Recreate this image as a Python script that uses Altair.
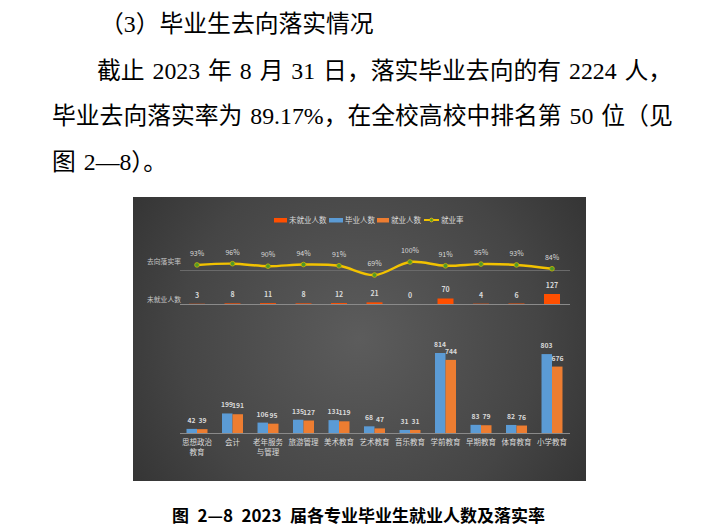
import altair as alt
import pandas as pd

# ---------------- data ----------------
categories = ["思想政治教育", "会计", "老年服务与管理", "旅游管理", "美术教育", "艺术教育",
              "音乐教育", "学前教育", "早期教育", "体育教育", "小学教育"]
graduates = [42, 199, 106, 135, 131, 68, 31, 814, 83, 82, 803]
employed = [39, 191, 95, 127, 119, 47, 31, 744, 79, 76, 676]
unemployed = [3, 8, 11, 8, 12, 21, 0, 70, 4, 6, 127]
rate = [93, 96, 90, 94, 91, 69, 100, 91, 95, 93, 84]

legend_names = ["未就业人数", "毕业人数", "就业人数", "就业率"]
row_names = ["去向落实率", "未就业人数"]
doc_lines = [
    "（3）毕业生去向落实情况",
    "截止 2023 年 8 月 31 日，落实毕业去向的有 2224 人，",
    "毕业去向落实率为 89.17%，在全校高校中排名第 50 位（见",
    "图 2—8）。",
]
caption = "图 2—8 2023 届各专业毕业生就业人数及落实率"

# ---------------- styling ----------------
RED = "#FF4F00"
BLUE = "#5B9BD5"
ORANGE = "#ED7D31"
LINE = "#F2C200"
DOT = "#4E9A2A"
LBL = "#D9D9D9"
CJK = "Noto Sans CJK SC"
DOCFONT = "Liberation Serif, Noto Sans CJK SC"
THIRD_SPACE = "\u2004"
EN_SPACE = "\u2002"

df = pd.DataFrame({
    "cat": categories,
    "label": [c if len(c) <= 4 else c[:4] + "\n" + c[4:] for c in categories],
    "grad": graduates,
    "emp": employed,
    "unemp": unemployed,
    "rate": rate,
    "rate_txt": [f"{r}%" for r in rate],
    "idx": list(range(len(categories))),
})
one = pd.DataFrame({"k": [0]})

X = alt.X("cat:N", scale=alt.Scale(type="point", domain=categories, range=[189, 544], padding=0), axis=None)
Y_rate = alt.Y("rate:Q", scale=alt.Scale(domain=[0, 100], range=[296, 254]), axis=None)
Y_unemp = alt.Y("unemp:Q", scale=alt.Scale(domain=[0, 127], range=[296, 286]), axis=None)
Y_grad = alt.Y("grad:Q", scale=alt.Scale(domain=[0, 814], range=[425, 345]), axis=None)
Y_emp = alt.Y("emp:Q", scale=alt.Scale(domain=[0, 814], range=[425, 345]), axis=None)

layers = []

# background panel with radial shading
bg = alt.Chart(one).mark_rect(
    fill=alt.RadialGradient(
        gradient="radial",
        stops=[alt.GradientStop(color="#5c5c5c", offset=0),
               alt.GradientStop(color="#454545", offset=0.55),
               alt.GradientStop(color="#2a2a2a", offset=1)],
        x1=0.5, y1=0.5, r1=0, x2=0.5, y2=0.5, r2=0.72),
).encode(x=alt.value(125), x2=alt.value(578), y=alt.value(189), y2=alt.value(473))
layers.append(bg)

# document text
doc_x = [92, 89, 44, 44]
doc_y = [17, 64, 109, 155]
for t, xx, yy in zip(doc_lines, doc_x, doc_y):
    layers.append(alt.Chart(one).mark_text(text=t.replace(" ", THIRD_SPACE), align="left", baseline="middle",
                                           fontSize=23.8, font=DOCFONT, color="#000000")
                  .encode(x=alt.value(xx), y=alt.value(yy)))

# caption
layers.append(alt.Chart(one).mark_text(text=caption.replace(" ", EN_SPACE), align="left", baseline="middle",
                                       fontSize=17, fontWeight="bold", font=CJK, color="#000000")
              .encode(x=alt.value(164), y=alt.value(509)))

# baselines
for yy, col in [(262.5, "#6a6a6a"), (296.5, "#8a8a8a"), (425.5, "#8a8a8a")]:
    layers.append(alt.Chart(one).mark_rule(color=col, strokeWidth=1)
                  .encode(x=alt.value(172), x2=alt.value(562), y=alt.value(yy)))

# row labels
for name, yy in zip(row_names, [254, 292]):
    layers.append(alt.Chart(one).mark_text(text=name, fontSize=6.8, font=CJK, color="#C8C8C8")
                  .encode(x=alt.value(156), y=alt.value(yy)))

# legend
sw = [(266, 279, RED), (321, 335, BLUE), (369, 381, ORANGE)]
for (a, b, c) in sw:
    layers.append(alt.Chart(one).mark_rect(color=c)
                  .encode(x=alt.value(a), x2=alt.value(b), y=alt.value(210), y2=alt.value(214.5)))
layers.append(alt.Chart(one).mark_rule(color=LINE, strokeWidth=2)
              .encode(x=alt.value(416), x2=alt.value(431), y=alt.value(212)))
layers.append(alt.Chart(one).mark_circle(size=14, fill=DOT, opacity=1, stroke=LINE, strokeWidth=0.8)
              .encode(x=alt.value(423.5), y=alt.value(212)))
for name, xx in zip(legend_names, [281, 337, 383, 433]):
    layers.append(alt.Chart(one).mark_text(text=name, align="left", baseline="middle", fontSize=7.5,
                                           font=CJK, color=LBL)
                  .encode(x=alt.value(xx), y=alt.value(212.5)))

# employment rate line
layers.append(alt.Chart(df).mark_line(interpolate="catmull-rom", color=LINE, strokeWidth=2.4)
              .encode(x=X, y=Y_rate, order=alt.Order("idx:Q")))
layers.append(alt.Chart(df).mark_circle(size=22, fill=DOT, opacity=1, stroke="#C9B400", strokeWidth=0.8)
              .encode(x=X, y=Y_rate))
layers.append(alt.Chart(df).mark_text(dy=-11, fontSize=7, font=CJK, color=LBL)
              .encode(x=X, y=Y_rate, text="rate_txt:N"))

# unemployed bars
layers.append(alt.Chart(df).mark_bar(width=16, color=RED)
              .encode(x=X, y=Y_unemp))
layers.append(alt.Chart(df).mark_text(dy=-8, fontSize=7, fontWeight="bold", font=CJK, color=LBL)
              .encode(x=X, y=Y_unemp, text="unemp:Q"))

# graduates / employed bars
layers.append(alt.Chart(df).mark_bar(width=10.5, xOffset=-5.25, color=BLUE)
              .encode(x=X, y=Y_grad))
layers.append(alt.Chart(df).mark_bar(width=10.5, xOffset=5.25, color=ORANGE)
              .encode(x=X, y=Y_emp))
layers.append(alt.Chart(df).mark_text(dy=-8, xOffset=-5.5, fontSize=6.8, fontWeight="bold", font=CJK, color=LBL)
              .encode(x=X, y=Y_grad, text="grad:Q"))
layers.append(alt.Chart(df).mark_text(dy=-8, xOffset=5.5, fontSize=6.8, fontWeight="bold", font=CJK, color=LBL)
              .encode(x=X, y=Y_emp, text="emp:Q"))

# category labels
layers.append(alt.Chart(df).mark_text(baseline="top", lineBreak="\n", lineHeight=10, fontSize=7.5,
                                      font=CJK, color=LBL)
              .encode(x=X, y=alt.value(431), text="label:N"))

chart = alt.layer(*layers).resolve_scale(y="independent").properties(
    width=709, height=519, padding=0,
    autosize=alt.AutoSizeParams(type="none"),
    background="#ffffff",
).configure_view(stroke=None)

chart.save("out.html", embed_options={"renderer": "svg", "actions": False})
